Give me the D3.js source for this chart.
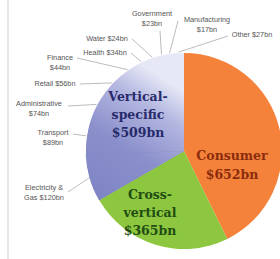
<!DOCTYPE html>
<html lang="en">
<head>
  <meta charset="UTF-8" />
  <title>IoT market value by segment</title>
  <script src="https://d3js.org/d3.v7.min.js"></script>
  <style>
    body {
      margin: 0;
      background: #fff;
    }

    svg {
      display: block;
    }

    .small {
      font-family: "Liberation Sans", sans-serif;
      font-size: 7.3px;
      fill: #555;
    }

    .big {
      font-family: "DejaVu Serif", serif;
      font-weight: bold;
      font-size: 12.5px;
      text-anchor: middle;
    }
  </style>
</head>
<body>
  <div id="chart"></div>

  <script>
    const width = 280;
    const height = 259;

    // main segments ($bn)
    const segments = ["Consumer", "Cross-vertical", "Vertical-specific"];
    const segmentValues = [652, 365, 509];

    // break-down of the vertical-specific segment ($bn)
    const sectors = ["Electricity & Gas", "Transport", "Administrative", "Retail", "Finance",
                     "Health", "Water", "Government", "Manufacturing", "Other"];
    const sectorValues = [120, 89, 74, 56, 44, 34, 24, 23, 17, 27];

    const cx = 184, cy = 151, r = 98;

    const svg = d3.select("#chart")
      .append("svg")
      .attr("width", width)
      .attr("height", height);

    // light border line on the left
    svg.append("line")
      .attr("x1", 8).attr("x2", 8)
      .attr("y1", 0).attr("y2", height)
      .attr("stroke", "#e8e8e8")
      .attr("stroke-width", 2);

    // shading of the vertical-specific part, dark at the bottom, pale at the top
    const grad = svg.append("defs").append("linearGradient")
      .attr("id", "vsGrad")
      .attr("gradientUnits", "userSpaceOnUse")
      .attr("x1", cx - r * 0.9).attr("y1", cy + r * 0.35)
      .attr("x2", cx - r * 0.05).attr("y2", cy - r);
    grad.append("stop").attr("offset", 0).attr("stop-color", "#7a7fc1");
    grad.append("stop").attr("offset", 0.5).attr("stop-color", "#8b90cc");
    grad.append("stop").attr("offset", 0.8).attr("stop-color", "#b4b7e0");
    grad.append("stop").attr("offset", 1).attr("stop-color", "#e6e8f6");

    const g = svg.append("g")
      .attr("transform", `translate(${cx},${cy})`);

    const pie = d3.pie().sort(null);
    const arc = d3.arc().innerRadius(0).outerRadius(r);

    const mainArcs = pie(segmentValues);
    const colors = ["#f4823a", "#8dc63f", "#8489c9"];

    g.selectAll("path.main")
      .data(mainArcs)
      .join("path")
      .attr("class", "main")
      .attr("d", arc)
      .attr("fill", (d, i) => i === 2 ? "url(#vsGrad)" : colors[i]);

    // sub slices inside the vertical-specific slice
    const vs = mainArcs[2];
    const subPie = d3.pie().sort(null)
      .startAngle(vs.startAngle)
      .endAngle(vs.endAngle);
    const subArcs = subPie(sectorValues);

    g.selectAll("path.sub")
      .data(subArcs)
      .join("path")
      .attr("class", "sub")
      .attr("d", arc)
      .attr("fill", "url(#vsGrad)")
      .attr("stroke", (d, i) => i === 0 ? "#7479bb" : "none")
      .attr("stroke-width", 0.3);

    // sector labels: text lines, text anchor point, leader start point
    const labelLayout = [
      { lines: ["Electricity &", "Gas $"], x: 44, y: 190, lx: 68, ly: 192 },
      { lines: ["Transport", "$"], x: 53, y: 135, lx: 73, ly: 134 },
      { lines: ["Administrative", "$"], x: 39, y: 106, lx: 68, ly: 106 },
      { lines: ["Retail $"], x: 55, y: 86, lx: 80, ly: 84 },
      { lines: ["Finance", "$"], x: 60, y: 60, lx: 77, ly: 58 },
      { lines: ["Health $"], x: 105, y: 55, lx: 131, ly: 53 },
      { lines: ["Water $"], x: 107, y: 41, lx: 132, ly: 39 },
      { lines: ["Government", "$"], x: 152, y: 16, lx: 160, ly: 31 },
      { lines: ["Manufacturing", "$"], x: 207, y: 22, lx: 178, ly: 21 },
      { lines: ["Other $"], x: 252, y: 37, lx: 228, ly: 36 }
    ];

    const edge = d3.arc().innerRadius(r + 1).outerRadius(r + 1);

    subArcs.forEach((d, i) => {
      const lay = labelLayout[i];
      const [ex, ey] = edge.centroid(d);
      svg.append("line")
        .attr("x1", lay.lx).attr("y1", lay.ly)
        .attr("x2", cx + ex).attr("y2", cy + ey)
        .attr("stroke", "#aaa")
        .attr("stroke-width", 0.8);

      const t = svg.append("text")
        .attr("class", "small")
        .attr("text-anchor", "middle")
        .attr("x", lay.x)
        .attr("y", lay.y);
      lay.lines.forEach((line, j) => {
        const txt = line.endsWith("$") ? line + sectorValues[i] + "bn" : line;
        t.append("tspan")
          .attr("x", lay.x)
          .attr("dy", j === 0 ? 0 : 10)
          .text(txt);
      });
    });

    // big labels of the main segments
    const bigLabels = [
      { lines: ["Consumer", "$" + segmentValues[0] + "bn"], x: 232, y: 160, step: 19, color: "#8a2c0c" },
      { lines: ["Cross-", "vertical", "$" + segmentValues[1] + "bn"], x: 150, y: 199, step: 18, color: "#1f4d12" },
      { lines: ["Vertical-", "specific", "$" + segmentValues[2] + "bn"], x: 138, y: 101, step: 18, color: "#262a6a" }
    ];

    bigLabels.forEach(b => {
      const t = svg.append("text")
        .attr("class", "big")
        .attr("x", b.x)
        .attr("y", b.y)
        .attr("fill", b.color);
      b.lines.forEach((line, j) => {
        t.append("tspan")
          .attr("x", b.x)
          .attr("dy", j === 0 ? 0 : b.step)
          .text(line);
      });
    });
  </script>
</body>
</html>
